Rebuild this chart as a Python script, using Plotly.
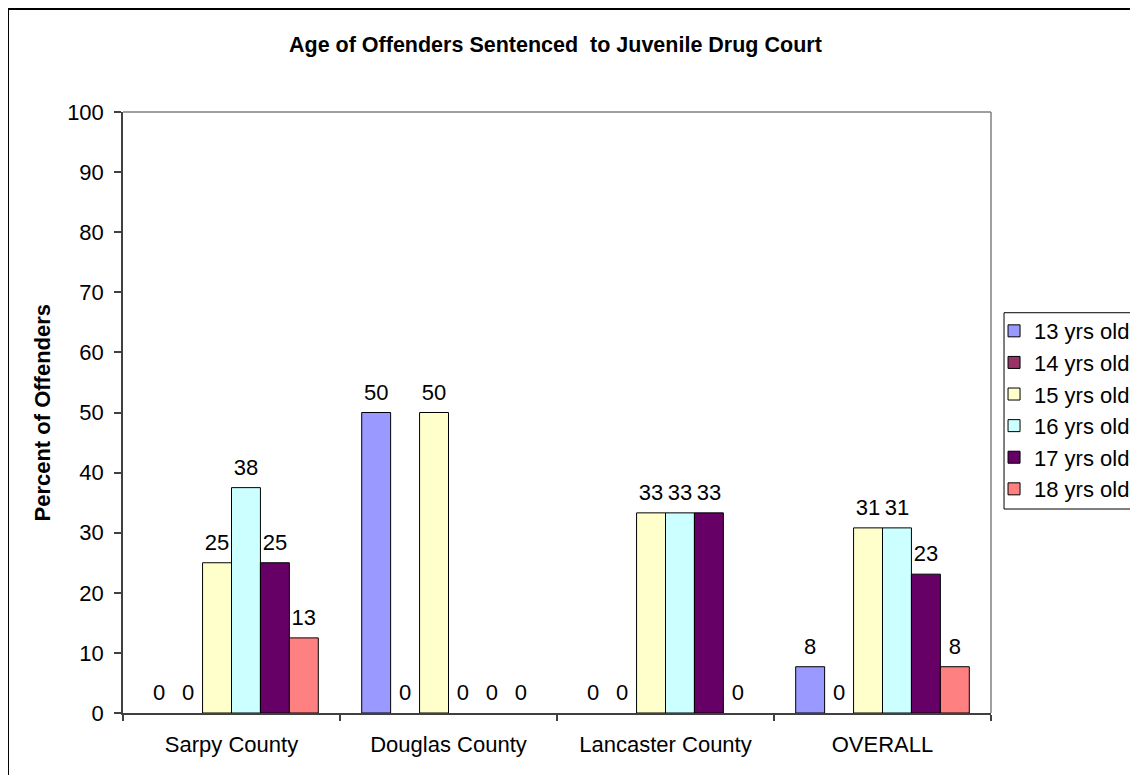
import plotly.graph_objects as go

categories = ["Sarpy County", "Douglas County", "Lancaster County", "OVERALL"]
series_names = ["13 yrs old", "14 yrs old", "15 yrs old", "16 yrs old", "17 yrs old", "18 yrs old"]
age13 = [0, 50, 0, 7.7]
age14 = [0, 0, 0, 0]
age15 = [25, 50, 33.3, 30.8]
age16 = [37.5, 0, 33.3, 30.8]
age17 = [25, 0, 33.3, 23.1]
age18 = [12.5, 0, 0, 7.7]
series_values = [age13, age14, age15, age16, age17, age18]
colors = ["#9999FF", "#993366", "#FFFFCC", "#CCFFFF", "#660066", "#FF8080"]
y_ticks = [0, 10, 20, 30, 40, 50, 60, 70, 80, 90, 100]

FONT = "Liberation Sans, Arial, sans-serif"
GAP = 0.2

fig = go.Figure()
for i, (name, vals, col) in enumerate(zip(series_names, series_values, colors)):
    fig.add_trace(go.Bar(
        name=name, x=categories, y=[v if v > 0 else None for v in vals], offsetgroup="g%d" % i,
        marker=dict(color=col, line=dict(color="black", width=1)),
        showlegend=True, hoverinfo="skip",
    ))
for i, (name, vals) in enumerate(zip(series_names, series_values)):
    fig.add_trace(go.Scatter(
        name=name, x=categories, y=vals, offsetgroup="g%d" % i,
        mode="markers+text", marker=dict(size=10.4, opacity=0, color="white"),
        texttemplate="%{y:.0f}", textposition="top center",
        textfont=dict(family=FONT, size=22, color="black"),
        cliponaxis=False, showlegend=False, hoverinfo="skip",
    ))

fig.update_layout(
    width=1130, height=767,
    margin=dict(l=115, r=147, t=104, b=62, autoexpand=False),
    paper_bgcolor="white", plot_bgcolor="white",
    barmode="group", bargap=GAP, bargroupgap=0,
    scattermode="group", scattergap=GAP,
    font=dict(family=FONT, size=22, color="black"),
    showlegend=True,
    legend=dict(
        x=1.0035, y=0.6705, xanchor="left", yanchor="top",
        borderwidth=0, bgcolor="rgba(0,0,0,0)",
        font=dict(family=FONT, size=22, color="black"),
        traceorder="normal",
    ),
    xaxis=dict(
        type="category", showgrid=False, ticks="outside", ticklen=6,
        tickson="boundaries", tickcolor="#404040", tickwidth=1.5,
        showline=True, linecolor="#404040", linewidth=1.5,
        tickfont=dict(family=FONT, size=22, color="black"),
        ticklabelstandoff=11,
        range=[-0.5, 3.5],
    ),
    yaxis=dict(
        range=[0, 100], tickvals=y_ticks, showgrid=False, zeroline=False,
        ticks="outside", ticklen=7, tickcolor="#404040", tickwidth=1.5,
        showline=True, linecolor="#404040", linewidth=1.5,
        tickfont=dict(family=FONT, size=22, color="black"),
        ticklabelstandoff=6,
    ),
    annotations=[
        dict(text="<b>Age of Offenders Sentenced\u00a0 to Juvenile Drug Court</b>",
             xref="paper", yref="paper", x=0.4977, y=1.1107, xanchor="center", yanchor="middle",
             showarrow=False, font=dict(family=FONT, size=21.5, color="black")),
        dict(text="<b>Percent of Offenders</b>", textangle=-90,
             xref="paper", yref="paper", x=-0.0933, y=0.5, xanchor="center", yanchor="middle",
             showarrow=False, font=dict(family=FONT, size=22, color="black")),
    ],
    shapes=[
        # plot area top/right border
        dict(type="line", xref="paper", yref="paper", x0=0, x1=1, y0=1, y1=1,
             line=dict(color="#808080", width=1.5)),
        dict(type="line", xref="paper", yref="paper", x0=1, x1=1, y0=0, y1=1,
             line=dict(color="#808080", width=1.5)),
        # legend box
        dict(type="rect", xref="paper", yref="paper", x0=1.015, x1=1.25, y0=0.3394, y1=0.666,
             line=dict(color="black", width=1)),
        # outer chart border
        dict(type="rect", xref="paper", yref="paper", x0=-0.1325, x1=1.2, y0=-0.12, y1=1.1714,
             line=dict(color="black", width=2), layer="below"),
    ],
)

fig.write_html("out.html")
